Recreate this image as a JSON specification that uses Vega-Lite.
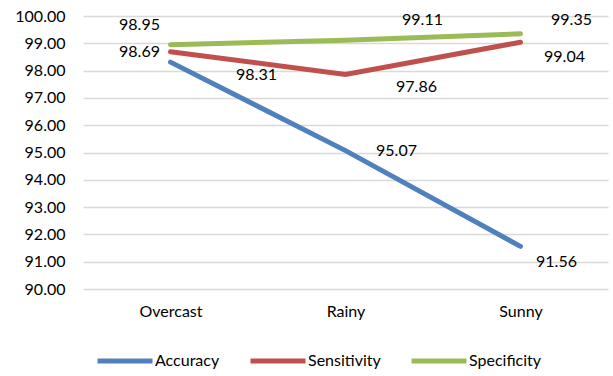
{
  "$schema": "https://vega.github.io/schema/vega-lite/v6.json",
  "width": 525,
  "height": 273,
  "autosize": {"type": "none"},
  "padding": {"left": 83, "top": 16, "right": 5, "bottom": 87},
  "background": "#ffffff",
  "config": {
    "view": {"stroke": null},
    "font": "Lato",
    "text": {"font": "Lato", "fontSize": 16, "color": "#000000"}
  },
  "data": {
    "values": [
      {"condition": "Overcast", "metric": "Accuracy", "value": 98.31},
      {"condition": "Rainy", "metric": "Accuracy", "value": 95.07},
      {"condition": "Sunny", "metric": "Accuracy", "value": 91.56},
      {"condition": "Overcast", "metric": "Sensitivity", "value": 98.69},
      {"condition": "Rainy", "metric": "Sensitivity", "value": 97.86},
      {"condition": "Sunny", "metric": "Sensitivity", "value": 99.04},
      {"condition": "Overcast", "metric": "Specificity", "value": 98.95},
      {"condition": "Rainy", "metric": "Specificity", "value": 99.11},
      {"condition": "Sunny", "metric": "Specificity", "value": 99.35}
    ]
  },
  "encoding": {
    "x": {
      "field": "condition",
      "type": "ordinal",
      "sort": ["Overcast", "Rainy", "Sunny"],
      "scale": {"type": "point", "padding": 0.5},
      "axis": {
        "title": null,
        "labelAngle": 0,
        "domain": false,
        "ticks": false,
        "labelPadding": 14,
        "labelFontSize": 16,
        "labelFont": "Lato",
        "labelColor": "#000000"
      }
    },
    "y": {
      "field": "value",
      "type": "quantitative",
      "scale": {"domain": [90, 100], "nice": false, "zero": false},
      "axis": {
        "title": null,
        "values": [90, 91, 92, 93, 94, 95, 96, 97, 98, 99, 100],
        "format": ".2f",
        "grid": true,
        "gridColor": "#D9D9D9",
        "gridWidth": 1.3,
        "domain": false,
        "ticks": false,
        "labelPadding": 18,
        "labelFontSize": 16,
        "labelFont": "Lato",
        "labelColor": "#000000"
      }
    }
  },
  "layer": [
    {
      "mark": {"type": "line", "strokeWidth": 5, "strokeCap": "round"},
      "encoding": {
        "color": {
          "field": "metric",
          "type": "nominal",
          "sort": ["Accuracy", "Sensitivity", "Specificity"],
          "scale": {"range": ["#4F81BD", "#C0504D", "#9BBB59"]},
          "legend": {
            "title": null,
            "orient": "none",
            "direction": "horizontal",
            "legendX": 12,
            "legendY": 315,
            "symbolType": "stroke",
            "symbolSize": 3025,
            "symbolStrokeWidth": 5,
            "labelFontSize": 16,
            "labelFont": "Lato",
            "labelColor": "#000000",
            "labelOffset": 0,
            "columnPadding": 20
          }
        }
      }
    },
    {
      "transform": [{"filter": "datum.metric === 'Specificity' && datum.condition === 'Overcast'"}],
      "mark": {"type": "text", "dx": -31, "dy": -20},
      "encoding": {"text": {"field": "value", "type": "quantitative", "format": ".2f"}}
    },
    {
      "transform": [{"filter": "datum.metric === 'Specificity' && datum.condition === 'Rainy'"}],
      "mark": {"type": "text", "dx": 77, "dy": -20},
      "encoding": {"text": {"field": "value", "type": "quantitative", "format": ".2f"}}
    },
    {
      "transform": [{"filter": "datum.metric === 'Specificity' && datum.condition === 'Sunny'"}],
      "mark": {"type": "text", "dx": 51, "dy": -14},
      "encoding": {"text": {"field": "value", "type": "quantitative", "format": ".2f"}}
    },
    {
      "transform": [{"filter": "datum.metric === 'Sensitivity' && datum.condition === 'Overcast'"}],
      "mark": {"type": "text", "dx": -31, "dy": 0},
      "encoding": {"text": {"field": "value", "type": "quantitative", "format": ".2f"}}
    },
    {
      "transform": [{"filter": "datum.metric === 'Sensitivity' && datum.condition === 'Rainy'"}],
      "mark": {"type": "text", "dx": 71, "dy": 13},
      "encoding": {"text": {"field": "value", "type": "quantitative", "format": ".2f"}}
    },
    {
      "transform": [{"filter": "datum.metric === 'Sensitivity' && datum.condition === 'Sunny'"}],
      "mark": {"type": "text", "dx": 44, "dy": 15},
      "encoding": {"text": {"field": "value", "type": "quantitative", "format": ".2f"}}
    },
    {
      "transform": [{"filter": "datum.metric === 'Accuracy' && datum.condition === 'Overcast'"}],
      "mark": {"type": "text", "dx": 86, "dy": 13},
      "encoding": {"text": {"field": "value", "type": "quantitative", "format": ".2f"}}
    },
    {
      "transform": [{"filter": "datum.metric === 'Accuracy' && datum.condition === 'Rainy'"}],
      "mark": {"type": "text", "dx": 51, "dy": 0},
      "encoding": {"text": {"field": "value", "type": "quantitative", "format": ".2f"}}
    },
    {
      "transform": [{"filter": "datum.metric === 'Accuracy' && datum.condition === 'Sunny'"}],
      "mark": {"type": "text", "dx": 36, "dy": 16},
      "encoding": {"text": {"field": "value", "type": "quantitative", "format": ".2f"}}
    }
  ]
}
